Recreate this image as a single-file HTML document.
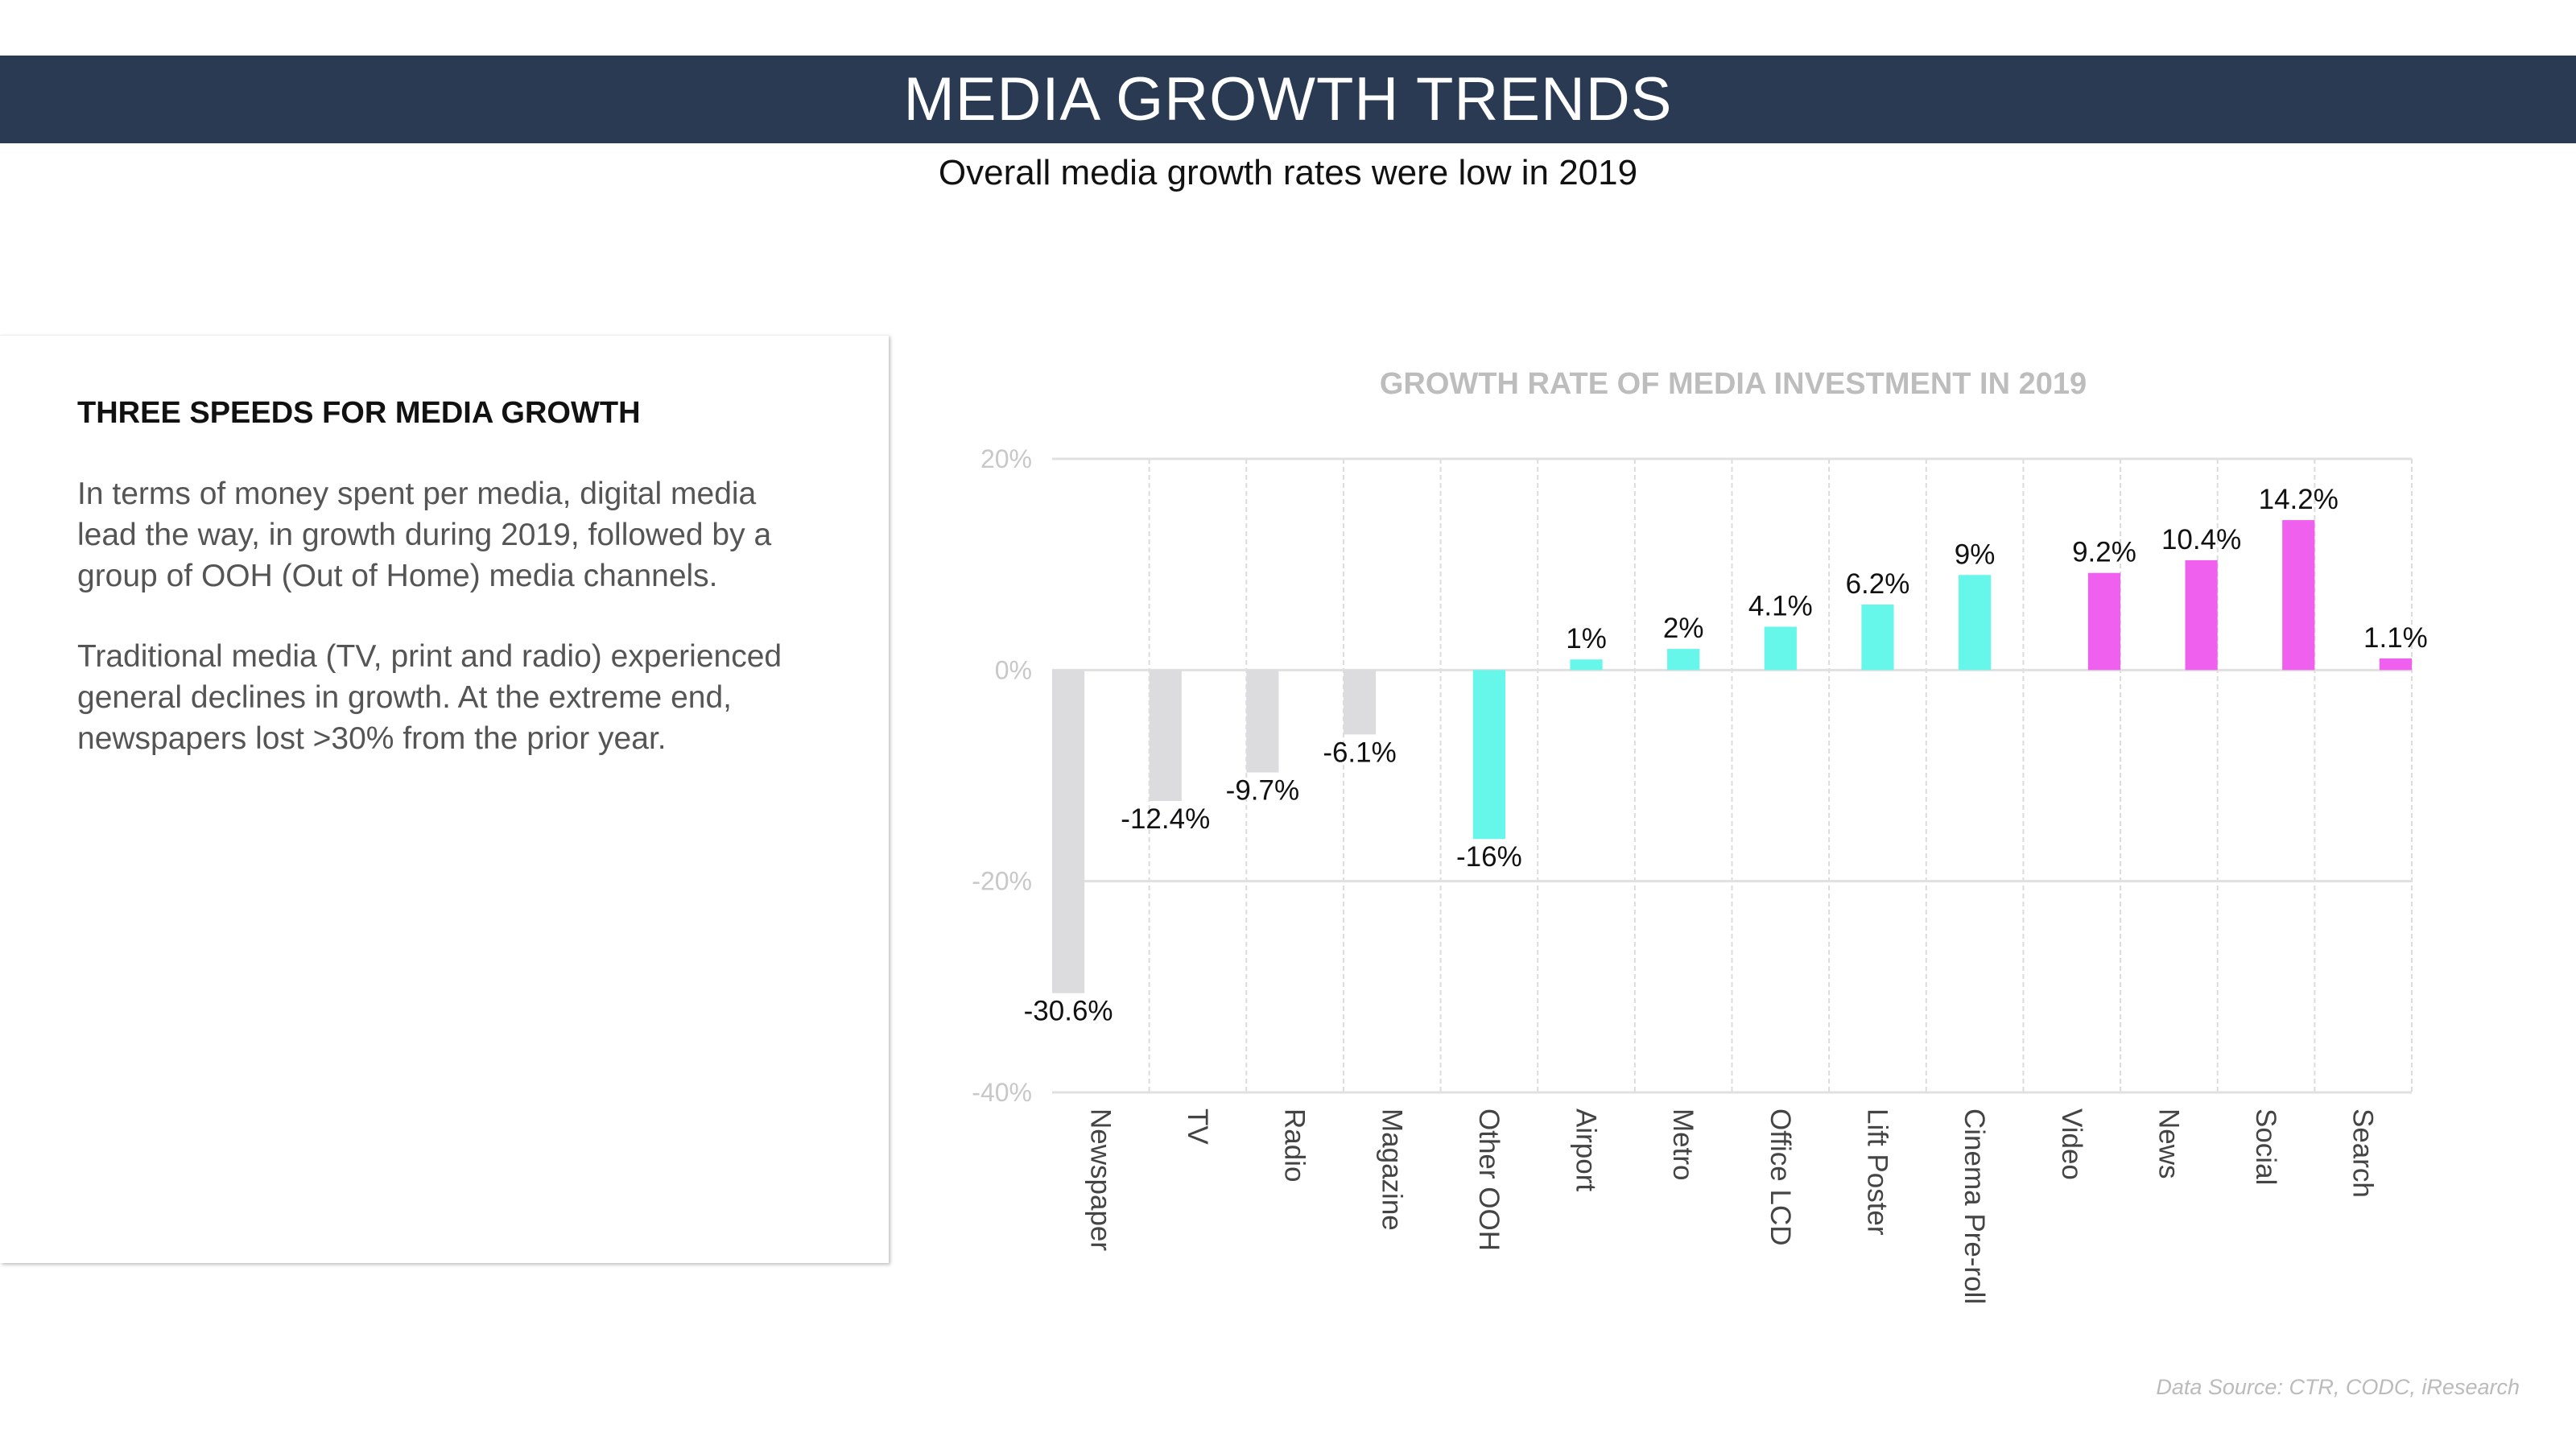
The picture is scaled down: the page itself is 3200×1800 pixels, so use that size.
<!DOCTYPE html>
<html><head><meta charset="utf-8">
<style>
body{margin:0;width:3200px;height:1800px;background:#fff;font-family:"Liberation Sans",sans-serif;overflow:hidden;position:relative}
.hdr{position:absolute;left:0;top:69px;width:3200px;height:109px;background:#293a52}
.hdr h1{margin:0;color:#fff;font-weight:normal;font-size:76px;text-align:center;line-height:109px;letter-spacing:1px}
.sub{position:absolute;top:190px;width:3200px;text-align:center;font-size:44px;color:#111}
.panel{position:absolute;left:0;top:416px;width:1104px;height:1152px;background:#fff;box-shadow:2px 2px 4px rgba(0,0,0,0.25);border-top:1px solid #eee}
.src{position:absolute;right:70px;top:1708px;font-size:27px;font-style:italic;color:#bbb}
</style></head><body>
<div class="hdr"><h1>MEDIA GROWTH TRENDS</h1></div>
<div class="sub">Overall media growth rates were low in 2019</div>
<div class="panel"></div>
<h2 style="position:absolute;left:96px;top:492px;margin:0;font-size:38px;font-weight:bold;color:#111">THREE SPEEDS FOR MEDIA GROWTH</h2>
<p style="position:absolute;left:96px;top:588px;margin:0;font-size:39px;line-height:51px;color:#555;width:1000px">In terms of money spent per media, digital media<br>lead the way, in growth during 2019, followed by a<br>group of OOH (Out of Home) media channels.</p>
<p style="position:absolute;left:96px;top:790px;margin:0;font-size:39px;line-height:51px;color:#555;width:1000px">Traditional media (TV, print and radio) experienced<br>general declines in growth. At the extreme end,<br>newspapers lost &gt;30% from the prior year.</p>
<div class="src">Data Source: CTR, CODC, iResearch</div>
<svg id="chart" width="3200" height="1800" style="position:absolute;left:0;top:0">
<text x="2153" y="489" text-anchor="middle" font-size="38" font-weight="bold" fill="#bdbdbd" font-family="Liberation Sans, sans-serif">GROWTH RATE OF MEDIA INVESTMENT IN 2019</text>
</svg>
<script>
const categories=["Newspaper","TV","Radio","Magazine","Other OOH","Airport","Metro","Office LCD","Lift Poster","Cinema Pre-roll","Video","News","Social","Search"];
const values=[-30.6,-12.4,-9.7,-6.1,-16,1,2,4.1,6.2,9,9.2,10.4,14.2,1.1];
const groups=[0,0,0,0,1,1,1,1,1,1,2,2,2,2];
const labels=["-30.6%","-12.4%","-9.7%","-6.1%","-16%","1%","2%","4.1%","6.2%","9%","9.2%","10.4%","14.2%","1.1%"];
const yTicks=[20,0,-20,-40];
const yTickLabels=["20%","0%","-20%","-40%"];
const colors=["#dcdcde","#66f7ea","#f060ee"];
const NS="http://www.w3.org/2000/svg";
const svg=document.getElementById('chart');
const L=1307,R=2996,T=570,B=1357,yMax=20,yMin=-40;
const y=v=>T+(yMax-v)/(yMax-yMin)*(B-T);
const band=(R-L)/categories.length;
const x=i=>L+i*band;
function mk(t,a){const e=document.createElementNS(NS,t);for(const k in a)e.setAttribute(k,a[k]);svg.appendChild(e);return e;}
categories.forEach((c,i)=>{if(i>0){const g=mk('line',{x1:x(i),x2:x(i),y1:T,y2:B,stroke:'#dcdcdc','stroke-width':2,'stroke-dasharray':'6,4'});

}});
const gr=mk('line',{x1:R,x2:R,y1:T,y2:B,stroke:'#dcdcdc','stroke-width':2,'stroke-dasharray':'6,4'});


yTicks.forEach((t,i)=>{const l=mk('line',{x1:L,x2:R,y1:y(t),y2:y(t),stroke:'#e0e0e0','stroke-width':3});


const tx=mk('text',{x:1282,y:y(t)+11,'text-anchor':'end','font-size':32,fill:'#c8c8c8','font-family':'Liberation Sans, sans-serif'});
tx.textContent=yTickLabels[i];

});
const bw=band/3;
values.forEach((v,i)=>{const bx=x(i)+groups[i]*bw;const y0=y(0),yv=y(v);
const r=mk('rect',{x:bx,y:Math.min(y0,yv),width:bw,height:Math.abs(yv-y0),fill:colors[groups[i]]});


const ly=v>=0?yv-14:yv+34;
const t=mk('text',{x:bx+bw/2,y:ly,'text-anchor':'middle','font-size':35,fill:'#111','font-family':'Liberation Sans, sans-serif'});
t.textContent=labels[i];


const cx=x(i)+band/2;
const c=mk('text',{x:cx,y:B+20,'font-size':35,fill:'#444','font-family':'Liberation Sans, sans-serif',transform:`rotate(90 ${cx} ${B+20}) translate(0 12)`});
c.textContent=categories[i];

});
</script>
</body></html>
